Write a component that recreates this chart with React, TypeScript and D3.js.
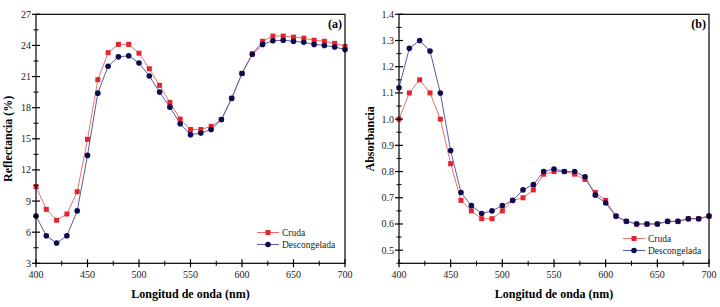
import React from "react";
import * as d3 from "d3";

const wavelengths = [400,410,420,430,440,450,460,470,480,490,500,510,520,530,540,550,560,570,580,590,600,610,620,630,640,650,660,670,680,690,700];
const reflCruda = [10.4,8.2,7.15,7.75,9.9,14.95,20.7,23.3,24.1,24.1,23.25,21.75,20.15,18.5,16.9,15.9,15.9,16.2,16.85,18.9,21.3,23.2,24.4,24.9,24.9,24.8,24.7,24.5,24.4,24.2,23.9];
const reflDesc = [7.55,5.65,4.95,5.65,8.05,13.4,19.4,22.0,22.9,23.0,22.3,21.05,19.5,18.05,16.45,15.4,15.55,15.9,16.85,18.9,21.3,23.15,24.1,24.45,24.5,24.4,24.3,24.1,24.0,23.85,23.6];
const absCruda = [1.0,1.1,1.15,1.1,1.0,0.83,0.69,0.65,0.62,0.62,0.65,0.69,0.70,0.73,0.79,0.80,0.80,0.79,0.77,0.72,0.69,0.63,0.61,0.60,0.60,0.60,0.61,0.61,0.62,0.62,0.63];
const absDesc = [1.12,1.27,1.30,1.26,1.10,0.88,0.72,0.67,0.64,0.65,0.67,0.69,0.73,0.75,0.80,0.81,0.80,0.80,0.78,0.71,0.68,0.63,0.61,0.60,0.60,0.60,0.61,0.61,0.62,0.62,0.63];
const xTicks = [400,450,500,550,600,650,700];
const reflTicks = [3,6,9,12,15,18,21,24,27];
const absTicks = [0.5,0.6,0.7,0.8,0.9,1.0,1.1,1.2,1.3,1.4];
const seriesNames = ["Cruda","Descongelada"];

const RED = "#e3262d";
const RED_LINE = "#e87070";
const BLUE = "#0b0b4f";
const BLUE_LINE = "#5b5ba8";
const FONT = "'Liberation Serif', 'DejaVu Serif', serif";

type PanelProps = {
  x0: number; x1: number; y0: number; y1: number;
  yDomain: [number, number]; yTicks: number[]; yMinor: number[];
  fmt: (v: number) => string; s1: number[]; s2: number[];
  yLabel: string; tag: string; yLabelX: number; legendX: number; legendY: number;
};

function Panel(p: PanelProps) {
  const x = d3.scaleLinear().domain([400, 700]).range([p.x0, p.x1]);
  const y = d3.scaleLinear().domain(p.yDomain).range([p.y1, p.y0]);
  const line = d3.line<number>().x((_, i) => x(wavelengths[i])).y((d) => y(d));
  const xMinor = [425, 475, 525, 575, 625, 675];
  const sq = 5;
  return (
    <g fontFamily={FONT}>
      <path d={line(p.s1) || ""} fill="none" stroke={RED_LINE} strokeWidth={1} />
      <path d={line(p.s2) || ""} fill="none" stroke={BLUE_LINE} strokeWidth={1} />
      {p.s1.map((v, i) => (
        <rect key={"a" + i} x={x(wavelengths[i]) - sq / 2} y={y(v) - sq / 2} width={sq} height={sq} fill={RED} />
      ))}
      {p.s2.map((v, i) => (
        <circle key={"b" + i} cx={x(wavelengths[i])} cy={y(v)} r={2.8} fill={BLUE} />
      ))}
      <rect x={p.x0} y={p.y0} width={p.x1 - p.x0} height={p.y1 - p.y0} fill="none" stroke="#000" strokeWidth={1.2} />
      {xTicks.map((t) => (
        <g key={"xt" + t}>
          <line x1={x(t)} x2={x(t)} y1={p.y1 - 4} y2={p.y1 + 4} stroke="#000" strokeWidth={1.2} />
          <text x={x(t)} y={p.y1 + 15} textAnchor="middle" fontSize={10} fill="#222">{t}</text>
        </g>
      ))}
      {xMinor.map((t) => (
        <line key={"xm" + t} x1={x(t)} x2={x(t)} y1={p.y1 - 2.5} y2={p.y1 + 2.5} stroke="#000" strokeWidth={1} />
      ))}
      {p.yTicks.map((t) => (
        <g key={"yt" + t}>
          <line x1={p.x0 - 4} x2={p.x0 + 4} y1={y(t)} y2={y(t)} stroke="#000" strokeWidth={1.2} />
          <text x={p.x0 - 5} y={y(t) + 3.5} textAnchor="end" fontSize={10} fill="#222">{p.fmt(t)}</text>
        </g>
      ))}
      {p.yMinor.map((t) => (
        <line key={"ym" + t} x1={p.x0 - 2.5} x2={p.x0 + 2.5} y1={y(t)} y2={y(t)} stroke="#000" strokeWidth={1} />
      ))}
      <text x={(p.x0 + p.x1) / 2} y={298} textAnchor="middle" fontSize={12} fontWeight="bold">Longitud de onda (nm)</text>
      <text transform={`translate(${p.yLabelX},${(p.y0 + p.y1) / 2}) rotate(-90)`} textAnchor="middle" fontSize={12} fontWeight="bold">{p.yLabel}</text>
      <text x={p.x1 - 3} y={p.y0 + 14} textAnchor="end" fontSize={12} fontWeight="bold">{p.tag}</text>
      <g>
        <line x1={p.legendX} x2={p.legendX + 22} y1={p.legendY} y2={p.legendY} stroke={RED_LINE} />
        <rect x={p.legendX + 11 - sq / 2} y={p.legendY - sq / 2} width={sq} height={sq} fill={RED} />
        <text x={p.legendX + 25} y={p.legendY + 3.5} fontSize={9.5} fill="#222">{seriesNames[0]}</text>
        <line x1={p.legendX} x2={p.legendX + 22} y1={p.legendY + 12} y2={p.legendY + 12} stroke={BLUE_LINE} />
        <circle cx={p.legendX + 11} cy={p.legendY + 12} r={2.8} fill={BLUE} />
        <text x={p.legendX + 25} y={p.legendY + 15.5} fontSize={9.5} fill="#222">{seriesNames[1]}</text>
      </g>
    </g>
  );
}

export default function App() {
  const reflMinor = reflTicks.slice(0, -1).map((t) => t + 1.5);
  const absMinor = [0.45, 0.55, 0.65, 0.75, 0.85, 0.95, 1.05, 1.15, 1.25, 1.35];
  return (
    <svg width={720} height={307} style={{ position: "absolute", left: 0, top: 0, background: "#fff" }}>
      <Panel x0={36} x1={345} y0={14.3} y1={263.3} yDomain={[3, 27]} yTicks={reflTicks} yMinor={reflMinor}
        fmt={(v) => String(v)} s1={reflCruda} s2={reflDesc} yLabel="Reflectancia (%)" tag="(a)" yLabelX={12}
        legendX={257} legendY={232.5} />
      <Panel x0={399} x1={709} y0={14.3} y1={263.3} yDomain={[0.45, 1.4]} yTicks={absTicks} yMinor={absMinor}
        fmt={(v) => v.toFixed(1)} s1={absCruda} s2={absDesc} yLabel="Absorbancia" tag="(b)" yLabelX={374}
        legendX={623} legendY={238.5} />
    </svg>
  );
}
